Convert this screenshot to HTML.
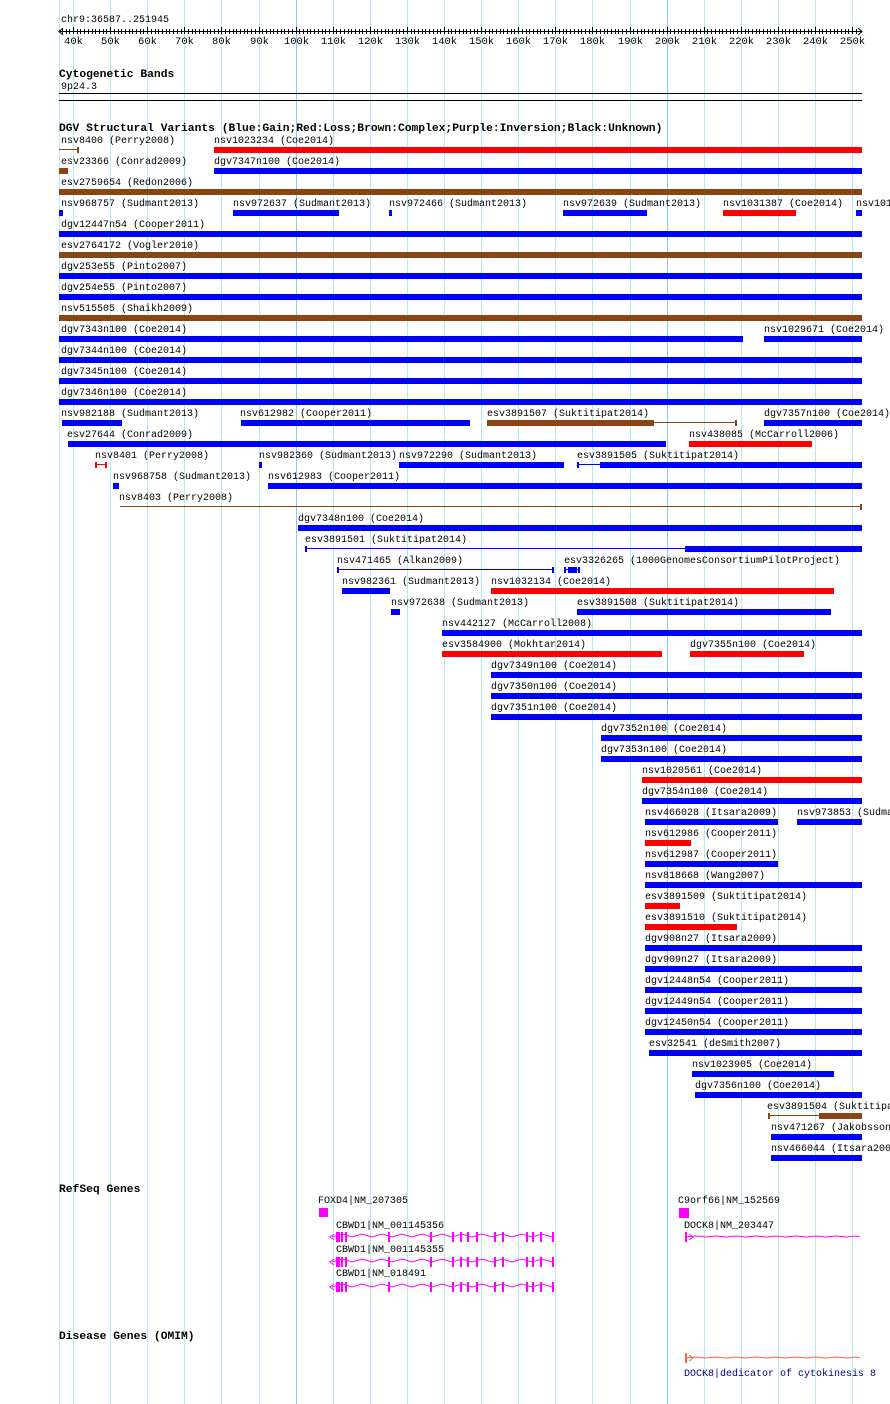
<!DOCTYPE html>
<html style="overflow:hidden"><head><meta charset="utf-8"><style>
html,body{overflow:hidden}
body{margin:0;width:890px;height:1404px;background:#fff;font-family:"Liberation Mono",monospace;font-size:10px;color:#000}
#w{position:relative;width:890px;height:1404px;overflow:hidden}
.t{position:absolute;white-space:nowrap;line-height:12px}
.h{position:absolute;white-space:nowrap;font-weight:bold;font-size:11.3px;line-height:12px}
.b{position:absolute;height:6px}
.g{position:absolute;top:0;width:1px;height:1404px;background:#b4eaf2}
</style></head><body><div id="w">
<div id="grid"></div>
<div class="t" style="left:61px;top:15px">chr9:36587..251945</div>
<svg style="position:absolute;left:0;top:0" width="890" height="60" id="ruler"></svg>
<div class="h" style="left:59px;top:69px">Cytogenetic Bands</div>
<div class="t" style="left:61px;top:82px">9p24.3</div>
<div style="position:absolute;left:59px;top:93px;width:803px;height:1px;background:#000"></div>
<div style="position:absolute;left:59px;top:100px;width:803px;height:1px;background:#000"></div>
<div class="h" style="left:59px;top:123px">DGV Structural Variants (Blue:Gain;Red:Loss;Brown:Complex;Purple:Inversion;Black:Unknown)</div>
<div id="trk"></div>
<div class="h" style="left:59px;top:1184px">RefSeq Genes</div>
<div class="t" style="left:318px;top:1196px">FOXD4|NM_207305</div>
<div class="b" style="left:319px;top:1208px;width:9px;height:9px;background:#f0f"></div>
<div class="t" style="left:336px;top:1221px">CBWD1|NM_001145356</div>
<div class="t" style="left:336px;top:1245px">CBWD1|NM_001145355</div>
<div class="t" style="left:336px;top:1269px">CBWD1|NM_018491</div>
<div class="t" style="left:678px;top:1196px">C9orf66|NM_152569</div>
<div class="b" style="left:679px;top:1208px;width:10px;height:10px;background:#f0f"></div>
<div class="t" style="left:684px;top:1221px">DOCK8|NM_203447</div>
<div class="h" style="left:59px;top:1331px">Disease Genes (OMIM)</div>
<div class="t" style="left:684px;top:1369px;color:#000088">DOCK8|dedicator of cytokinesis 8</div>
<svg style="position:absolute;left:0;top:1180px" width="890" height="200" id="genes"></svg>
</div>
<script>
var g=document.getElementById('grid'),h='';
h+='<div class="g" style="left:59px"></div>';
for(var k=40;k<=250;k+=10){var x=Math.round(73+(k-40)*3.71);h+='<div class="g" style="left:'+x+'px;'+(k%100==0?'background:#8ccbe6':'')+'"></div>';}
g.innerHTML=h;
var r='<line x1="59" y1="31.5" x2="862" y2="31.5" stroke="#000"/>';
r+='<path d="M63 28 L59 31.5 L63 35 M858 28 L862 31.5 L858 35" stroke="#000" fill="none"/>';
for(var k=37;k<=251;k++){var x=Math.round(73+(k-40)*3.71)+.5;r+='<line x1="'+x+'" y1="'+(k%10==0?27:29)+'" x2="'+x+'" y2="34" stroke="#000"/>';
if(k%10==0&&k<=250)r+='<text x="'+(x)+'" y="44" font-family="Liberation Mono" font-size="10.5" text-anchor="middle">'+k+'k</text>';}
document.getElementById('ruler').innerHTML=r;
var B='#0000ff',R='#ff0000',N='#8b4513';
var D=[
[0,'nsv8400 (Perry2008)',61,N,[[59,79,'lt']]],[0,'nsv1023234 (Coe2014)',214,R,[[214,862,'b']]],
[1,'esv23366 (Conrad2009)',61,N,[[59,68,'b']]],[1,'dgv7347n100 (Coe2014)',214,B,[[214,862,'b']]],
[2,'esv2759654 (Redon2006)',61,N,[[59,862,'b']]],
[3,'nsv968757 (Sudmant2013)',61,B,[[59,63,'b']]],[3,'nsv972637 (Sudmant2013)',233,B,[[233,339,'b']]],[3,'nsv972466 (Sudmant2013)',389,B,[[389,392,'b']]],[3,'nsv972639 (Sudmant2013)',563,B,[[563,647,'b']]],[3,'nsv1031387 (Coe2014)',723,R,[[723,796,'b']]],[3,'nsv101',856,B,[[856,862,'b']]],
[4,'dgv12447n54 (Cooper2011)',61,B,[[59,862,'b']]],
[5,'esv2764172 (Vogler2010)',61,N,[[59,862,'b']]],
[6,'dgv253e55 (Pinto2007)',61,B,[[59,862,'b']]],
[7,'dgv254e55 (Pinto2007)',61,B,[[59,862,'b']]],
[8,'nsv515505 (Shaikh2009)',61,N,[[59,862,'b']]],
[9,'dgv7343n100 (Coe2014)',61,B,[[59,743,'b']]],[9,'nsv1029671 (Coe2014)',764,B,[[764,862,'b']]],
[10,'dgv7344n100 (Coe2014)',61,B,[[59,862,'b']]],
[11,'dgv7345n100 (Coe2014)',61,B,[[59,862,'b']]],
[12,'dgv7346n100 (Coe2014)',61,B,[[59,862,'b']]],
[13,'nsv982188 (Sudmant2013)',61,B,[[62,122,'b']]],[13,'nsv612982 (Cooper2011)',240,B,[[241,470,'b']]],[13,'esv3891507 (Suktitipat2014)',487,N,[[487,654,'b'],[654,737,'rt']]],[13,'dgv7357n100 (Coe2014)',764,B,[[764,862,'b']]],
[14,'esv27644 (Conrad2009)',67,B,[[68,666,'b']]],[14,'nsv438085 (McCarroll2006)',689,R,[[689,812,'b']]],
[15,'nsv8401 (Perry2008)',95,R,[[95,107,'lrt']]],[15,'nsv982360 (Sudmant2013)',259,B,[[259,262,'b']]],[15,'nsv972290 (Sudmant2013)',399,B,[[399,564,'b']]],[15,'esv3891505 (Suktitipat2014)',577,B,[[577,600,'lt'],[600,862,'b']]],
[16,'nsv968758 (Sudmant2013)',113,B,[[113,119,'b']]],[16,'nsv612983 (Cooper2011)',268,B,[[268,862,'b']]],
[17,'nsv8403 (Perry2008)',119,N,[[120,862,'lt']]],
[18,'dgv7348n100 (Coe2014)',298,B,[[298,862,'b']]],
[19,'esv3891501 (Suktitipat2014)',305,B,[[305,685,'lt'],[685,862,'b']]],
[20,'nsv471465 (Alkan2009)',337,B,[[337,554,'lrt']]],[20,'esv3326265 (1000GenomesConsortiumPilotProject)',564,B,[[564,580,'lrt'],[568,577,'b']]],
[21,'nsv982361 (Sudmant2013)',342,B,[[342,390,'b']]],[21,'nsv1032134 (Coe2014)',491,R,[[491,834,'b']]],
[22,'nsv972638 (Sudmant2013)',391,B,[[391,400,'b']]],[22,'esv3891508 (Suktitipat2014)',577,B,[[577,831,'b']]],
[23,'nsv442127 (McCarroll2008)',442,B,[[442,862,'b']]],
[24,'esv3584900 (Mokhtar2014)',442,R,[[442,662,'b']]],[24,'dgv7355n100 (Coe2014)',690,R,[[690,804,'b']]],
[25,'dgv7349n100 (Coe2014)',491,B,[[491,862,'b']]],
[26,'dgv7350n100 (Coe2014)',491,B,[[491,862,'b']]],
[27,'dgv7351n100 (Coe2014)',491,B,[[491,862,'b']]],
[28,'dgv7352n100 (Coe2014)',601,B,[[601,862,'b']]],
[29,'dgv7353n100 (Coe2014)',601,B,[[601,862,'b']]],
[30,'nsv1020561 (Coe2014)',642,R,[[642,862,'b']]],
[31,'dgv7354n100 (Coe2014)',642,B,[[642,862,'b']]],
[32,'nsv466028 (Itsara2009)',645,B,[[645,778,'b']]],[32,'nsv973853 (Sudmant2013)',797,B,[[797,862,'b']]],
[33,'nsv612986 (Cooper2011)',645,R,[[645,691,'b']]],
[34,'nsv612987 (Cooper2011)',645,B,[[645,778,'b']]],
[35,'nsv818668 (Wang2007)',645,B,[[645,862,'b']]],
[36,'esv3891509 (Suktitipat2014)',645,R,[[645,680,'b']]],
[37,'esv3891510 (Suktitipat2014)',645,R,[[645,737,'b']]],
[38,'dgv908n27 (Itsara2009)',645,B,[[645,862,'b']]],
[39,'dgv909n27 (Itsara2009)',645,B,[[645,862,'b']]],
[40,'dgv12448n54 (Cooper2011)',645,B,[[645,862,'b']]],
[41,'dgv12449n54 (Cooper2011)',645,B,[[645,862,'b']]],
[42,'dgv12450n54 (Cooper2011)',645,B,[[645,862,'b']]],
[43,'esv32541 (deSmith2007)',649,B,[[649,862,'b']]],
[44,'nsv1023905 (Coe2014)',692,B,[[692,834,'b']]],
[45,'dgv7356n100 (Coe2014)',695,B,[[695,862,'b']]],
[46,'esv3891504 (Suktitipat2014)',767,N,[[768,819,'lt'],[819,862,'b']]],
[47,'nsv471267 (Jakobsson2008)',771,B,[[771,862,'b']]],
[48,'nsv466044 (Itsara2009)',771,B,[[771,862,'b']]]
];
var s='';
D.forEach(function(d){var ly=136+21*d[0],by=147+21*d[0];
s+='<div class="t" style="left:'+d[2]+'px;top:'+ly+'px">'+d[1]+'</div>';
d[4].forEach(function(q){var x1=q[0],x2=q[1],t=q[2];
if(t=='b')s+='<div class="b" style="left:'+x1+'px;top:'+by+'px;width:'+(x2-x1)+'px;background:'+d[3]+'"></div>';
else{s+='<div class="b" style="left:'+x1+'px;top:'+(by+2)+'px;width:'+(x2-x1)+'px;height:1px;background:'+d[3]+'"></div>';
if(t=='lrt'||(t=='lt'&&d[4].length>1&&q===d[4][0]))s+='<div class="b" style="left:'+x1+'px;top:'+by+'px;width:2px;background:'+d[3]+'"></div>';
if(t=='lrt'||t=='rt'||(t=='lt'&&d[4].length==1))s+='<div class="b" style="left:'+(x2-2)+'px;top:'+by+'px;width:2px;background:'+d[3]+'"></div>';}
});});
document.getElementById('trk').innerHTML=s;
var G='';
function gene(y,x1,x2,exons,col,wig){var p='M'+x1+' '+y;for(var x=x1+10;x<=x2;x+=20)p+=' L'+(x)+' '+(y-(wig?3:1))+' L'+Math.min(x+10,x2)+' '+y;
G+='<path d="'+p+'" stroke="'+col+'" fill="none"/>';exons.forEach(function(e){G+='<rect x="'+e[0]+'" y="'+(y-5)+'" width="'+e[1]+'" height="10" fill="'+col+'"/>';});}
var ex=[[336,4],[341,2],[345,2],[388,2],[430,2],[452,2],[460,2],[467,2],[476,2],[494,2],[502,2],[526,2],[532,2],[540,2],[552,2]];
[57,82,107].forEach(function(y){gene(y,332,554,ex,'#ff00ff',true);G+='<path d="M334 '+(y-3)+' L330 '+y+' L334 '+(y+3)+'" stroke="#f0f" fill="none"/>';});
gene(57,686,860,[[685,2]],'#ff00ff',false);
G+='<path d="M689 54 L693 57 L689 60" stroke="#f0f" fill="none"/>';
gene(178,686,860,[[685,2]],'#ff6040',false);
G+='<path d="M689 175 L693 178 L689 181" stroke="#ff6040" fill="none"/>';
document.getElementById('genes').innerHTML=G;
</script>
</body></html>
